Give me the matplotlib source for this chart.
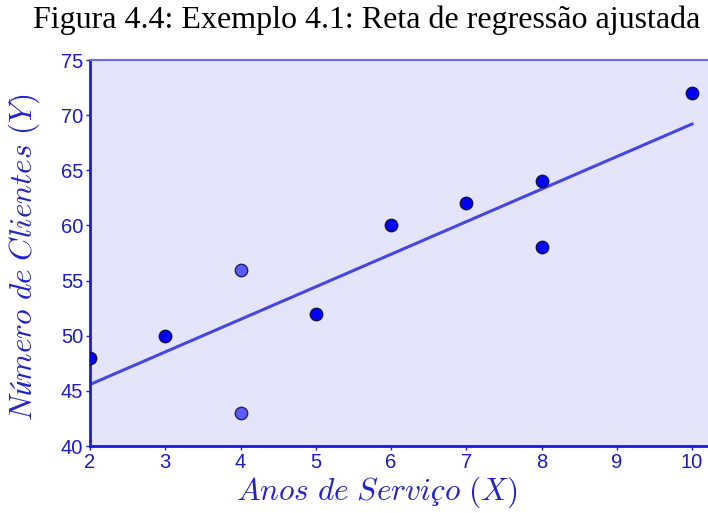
import numpy as np
import matplotlib.pyplot as plt

plt.rcParams['mathtext.fontset'] = 'cm'

## dados do exemplo 4.1
anos = [2, 3, 4, 4, 5, 6, 7, 8, 8, 10]
clientes = [48, 50, 56, 43, 52, 60, 62, 64, 58, 72]
destaque = [False, False, True, True, False, False, False, False, False, False]

xticks = [2, 3, 4, 5, 6, 7, 8, 9, 10]
yticks = [40, 45, 50, 55, 60, 65, 70, 75]

## reta de regressao
b, a = np.polyfit(anos, clientes, 1)

fig = plt.figure(figsize=(7.08, 5.13), dpi=100)
ax = fig.add_axes([90 / 708, 1 - 446 / 513, 618 / 708, 386 / 513])
ax.set_facecolor('#e4e4fa')

xl = np.array([min(anos), max(anos)])
ax.plot(xl, a + b * xl, color='#4646e0', lw=2.2, zorder=2)

x = np.array(anos)
y = np.array(clientes)
m = np.array(destaque)
ax.scatter(x[~m], y[~m], s=80, color='#0000ff', edgecolors='#111144', linewidths=1, zorder=3)
ax.scatter(x[m], y[m], s=80, color='#5a5aff', edgecolors='#222255', linewidths=1, zorder=3)

ax.set_xlim(2, 2 + 618 / (602 / 8))
ax.set_ylim(40, 75)
ax.set_xticks(xticks)
ax.set_yticks(yticks)
ax.tick_params(colors='#1a1acc', labelsize=14.5, length=3, width=1, pad=2)
for lab in ax.get_xticklabels() + ax.get_yticklabels():
    lab.set_family('Liberation Sans')
    lab.set_color('#1a1acc')

for s in ['left', 'bottom']:
    ax.spines[s].set_color('#1a1ad8')
    ax.spines[s].set_linewidth(2)
ax.spines['top'].set_color('#6a6aee')
ax.spines['top'].set_linewidth(1.5)
ax.spines['right'].set_visible(False)

ax.set_xlabel(r'$\mathit{Anos\ de\ Serviço\ (X)}$', fontsize=22.5, color='#2222cc')
ax.set_ylabel(r'$\mathit{Número\ de\ Clientes\ (Y)}$', fontsize=22.5, color='#2222cc')
ax.xaxis.set_label_coords(0.464, -0.075)
ax.yaxis.set_label_coords(-0.078, 0.49)

fig.text(367 / 708, 1 - 20 / 513, 'Figura 4.4: Exemplo 4.1: Reta de regressão ajustada',
         ha='center', va='center', fontsize=23, family='Liberation Serif', color='black')

fig.savefig('out.png', dpi=100)
